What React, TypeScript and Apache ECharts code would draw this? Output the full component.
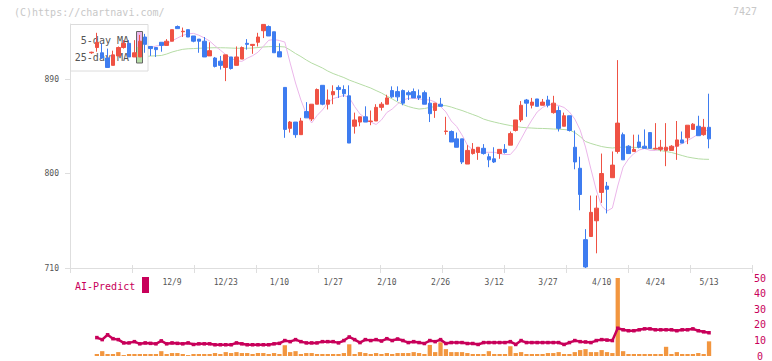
import React, { useEffect, useRef } from "react";
import * as echarts from "echarts";

const dates = [
  "11/18","11/19","11/20","11/21","11/22","11/25","11/26","11/27","11/28","11/29",
  "12/2","12/3","12/4","12/5","12/6","12/9","12/10","12/11","12/12","12/13","12/16","12/17","12/18","12/19","12/20","12/23","12/24","12/25","12/26","12/27","12/30",
  "1/6","1/7","1/8","1/9","1/10","1/14","1/15","1/16","1/17","1/20","1/21","1/22","1/23","1/24","1/27","1/28","1/29","1/30","1/31",
  "2/3","2/4","2/5","2/6","2/7","2/10","2/12","2/13","2/14","2/17","2/18","2/19","2/20","2/21","2/25","2/26","2/27","2/28",
  "3/3","3/4","3/5","3/6","3/7","3/10","3/11","3/12","3/13","3/14","3/17","3/18","3/19","3/21","3/24","3/25","3/26","3/27","3/28","3/31",
  "4/1","4/2","4/3","4/4","4/7","4/8","4/9","4/10","4/11","4/14","4/15","4/16","4/17","4/18","4/21","4/22","4/23","4/24","4/25","4/28","4/30",
  "5/1","5/2","5/7","5/8","5/9","5/12","5/13",
];

const opens = [
  915, 920, 915, 910, 903, 912, 920, 924, 911, 911,
  930, 921, 920, 925, 922, 926, 940, 935, 937, 931,
  928, 926, 912, 910, 907, 901, 911, 903, 909, 924,
  922, 925, 936, 940, 935, 916, 882, 843, 849, 837,
  859, 852, 866, 884, 866, 875, 882, 880, 874, 845,
  849, 854, 849.5, 850, 863, 866, 879, 878, 879, 877,
  878, 874, 877, 867, 860, 866, 840, 840, 833, 833,
  809, 819, 820, 824, 816, 814, 819, 823, 827, 841,
  851, 870, 865, 871, 865, 870, 858, 860, 845, 855,
  825, 805, 737, 740, 755, 782, 788, 796, 821, 837,
  826, 821, 830, 826, 839, 823.5, 823, 822, 822, 826,
  832, 834, 842, 845, 837, 844,
];
const closes = [
  915.5, 925, 910, 901, 913, 920, 924, 911, 915, 926,
  923, 919, 918, 922, 926, 937, 938, 935.5, 930, 926,
  926, 911, 917, 902, 903, 913, 900, 911, 920, 923,
  923, 930, 942, 931, 915, 911, 842, 849, 837, 850,
  853, 866, 880, 866, 870, 878, 880, 876, 829, 851,
  854, 849, 850, 863, 866, 872, 873, 873, 867, 875,
  872, 872, 866, 857, 867, 864, 840.5, 830, 825, 811,
  822, 823, 825, 819, 813, 811, 823, 820, 838, 851,
  865, 867, 868, 864, 868, 865, 867, 843, 855, 841,
  811, 780, 711, 763, 767, 800, 785, 808, 848, 813,
  819, 823, 825, 824, 824, 824, 825, 825, 826, 832,
  829, 846, 847, 836, 844, 833,
];
const lows = [
  914, 916, 909, 901, 903, 912, 919, 911, 911, 911,
  915, 912, 911, 916, 922, 926, 938, 930, 930, 925,
  915, 911, 912, 901, 899, 888, 899, 903, 909, 918,
  914, 921, 929, 931, 915, 911, 834, 839, 834, 837,
  853, 850, 866, 865, 861, 866, 872, 873, 829, 838,
  845, 849, 846, 850, 860, 866, 872, 869, 865, 870,
  872, 870, 866, 849, 853, 864, 837, 830, 825, 809,
  809, 818, 813, 818, 806, 810, 814, 819, 827, 840,
  849, 854, 862, 864, 865, 863, 857, 840, 845, 840,
  804, 765, 710, 740, 724, 772, 762, 796, 819, 813,
  819, 821, 824, 824, 824, 823, 821, 807, 822, 813,
  829, 828, 842, 836, 836, 824,
];
const highs = [
  916, 934, 924, 919, 917, 921, 927, 927, 927, 932,
  933, 921, 920, 925, 928, 937, 941, 939, 937, 931,
  928, 930, 925, 911, 912, 913, 911, 921, 921, 928,
  923, 934, 942, 941, 935, 924, 882, 850, 849, 853,
  868, 866, 881, 884, 880, 884, 884, 884, 884, 858,
  854, 864, 860, 866, 868, 875, 883, 883, 880, 879,
  881, 880, 879, 873, 867, 872, 854, 841, 839, 833,
  827, 829, 825, 828, 819, 825, 823, 828, 840, 851,
  869, 871, 872, 871, 871, 874, 874, 864, 858, 855,
  841, 816, 747, 779, 779, 819, 792, 821, 908, 839,
  827, 837, 837, 842, 839, 848, 832, 848, 827, 850,
  840, 846, 848, 855, 852, 876,
];

const ma5 = [
  null, null, null, null, null, null, null, null, null, null,
  920, 920, 921.4, 922.3, 923.8, 926.4, 929, 931.6, 933, 933.5,
  931.7, 929.2, 926.2, 921.6, 917.5, 913.3, 909.7, 907.4, 906.8, 909.8,
  912.2, 915.5, 921.1, 926.9, 927.6, 926.7, 925.2, 905.2, 886.2, 870,
  856.7, 848.1, 855.2, 860.5, 867.1, 871.4, 872.9, 874.3, 872.4, 863.8,
  856.7, 852.9, 849, 846.7, 851, 858.1, 861.4, 866.2, 870, 871.6,
  871.6, 871, 870.3, 870, 868.1, 863.8, 858.6, 850, 844.8, 836.7,
  827.1, 822.4, 820.5, 820.2, 820.2, 820.2, 819, 818.1, 818.1, 823.8,
  832.9, 842.4, 850.9, 858.6, 862.9, 865.5, 865.8, 864.8, 862.9, 858.6,
  851.9, 841.4, 825.2, 804.3, 784.3, 769, 764.3, 767.1, 788.1, 806.1,
  813.8, 819, 822.4, 823.8, 822.1, 821.9, 823.3, 824, 824, 826.2,
  828.6, 831.4, 834.3, 837.6, 840, 841.9,
];
const ma25 = [
  null, null, null, null, null, null, null, null, null, null,
  911.4, 911.9, 912.1, 912.4, 913.8, 915.7, 917.1, 918.3, 918.8, 919.0,
  919.3, 919.5, 919.7, 919.8, 919.8, 919.7, 919.5, 919.3, 919.3, 919.3,
  919.5, 920.0, 920.5, 920.8, 920.9, 920.9, 920.5, 917.6, 914.3, 911.4,
  908.1, 905.2, 902.9, 900.5, 897.6, 895.2, 893.3, 891.4, 889.0, 887.1,
  885.2, 883.3, 881.4, 879.0, 876.7, 873.8, 871.0, 868.1, 865.7, 863.8,
  862.4, 861.4, 861.9, 862.9, 863.8, 864.8, 864.6, 863.3, 861.6, 860.0,
  858.1, 856.2, 854.3, 851.9, 850.3, 849.0, 847.8, 846.7, 845.7, 844.8,
  844.0, 843.6, 843.3, 843.0, 842.9, 842.7, 842.4, 842.2, 841.9, 841.4,
  839.0, 835.2, 830.5, 828.6, 827.1, 825.7, 824.8, 824.3, 824.8, 825.2,
  825.2, 824.9, 824.8, 824.3, 823.8, 822.9, 821.9, 820.9, 820.0, 818.6,
  817.1, 815.7, 814.8, 814.0, 813.6, 813.5,
];

const volume = [
  null, 1.3, 3.1, 1.3, 1.3, 2.5, 0.6, 1.3, 1.3, 1.3,
  1.3, 1.3, 1.3, 3.1, 1.3, 1.9, 1.9, 1.3, 0.6, 1.3,
  1.3, 1.3, 1.3, 1.9, 1.3, 2.5, 1.9, 2.5, 1.9, 1.9,
  1.3, 1.9, 1.9, 1.3, 1.9, 1.3, 6.9, 2.5, 3.1, 1.3,
  1.9, 1.9, 1.3, 1.3, 1.3, 1.3, 1.3, 1.9, 7.5, 1.3,
  2.5, 1.9, 1.3, 1.9, 1.3, 1.9, 1.3, 1.9, 1.9, 1.9,
  2.5, 1.9, 1.3, 7.1, 2.5, 8.8, 4.4, 2.5, 2.5, 2.5,
  1.9, 1.3, 1.3, 1.3, 3.1, 1.3, 1.3, 1.3, 6.3, 1.9,
  2.5, 1.3, 1.3, 1.3, 1.3, 1.9, 1.9, 2.5, 1.3, 1.3,
  2.5, 3.8, 4.4, 2.5, 2.5, 3.8, 2.5, 1.9, 50, 3.1,
  1.3, 1.3, 1.3, 1.3, 1.3, 1.3, 1.3, 5.9, 1.3, 2.5,
  1.3, 1.3, 1.3, 1.9, 1.3, 9.4,
];
const aiPredict = [
  null, 11.8, 10.5, 13.6, 11.1, 10.5, 8.4, 8.4, 9.2, 7.8,
  8.4, 8.1, 7.8, 9.7, 7.8, 8.4, 8.1, 7.8, 8.4, 7.4,
  7.8, 7.8, 7.8, 7.2, 7.2, 7.2, 7.2, 8.4, 7.8, 7.2,
  7.2, 7.2, 7.2, 7.2, 7.8, 8.1, 9.9, 9.2, 10.5, 9.2,
  8.4, 8.4, 8.4, 9.2, 9.2, 9.2, 8.4, 9.9, 12.2, 10.5,
  8.6, 10.5, 9.9, 10.5, 9.6, 11.1, 9.9, 10.9, 9.9, 8.6,
  9.2, 8.6, 8.0, 9.9, 9.2, 10.5, 8.0, 8.6, 8.6, 8.6,
  8.0, 8.0, 7.4, 8.6, 8.6, 8.6, 8.6, 8.6, 9.2, 7.4,
  9.9, 8.6, 8.6, 8.6, 8.6, 8.6, 8.6, 8.6, 7.4, 8.6,
  9.9, 9.2, 9.0, 8.6, 9.9, 10.5, 10.2, 9.9, 17.8, 16.8,
  16.2, 16.2, 16.8, 17.4, 17.4, 16.8, 16.8, 16.8, 16.8, 16.2,
  16.8, 16.8, 17.4, 16.2, 15.5, 14.9,
];

const tickLabels = ["12/9", "12/23", "1/10", "1/27", "2/10", "2/26", "3/12", "3/27", "4/10", "4/24", "5/13"];
const priceTicks = [710, 800, 890];
const LEAD = 4;
const TRAIL = 8;

const FONT = "DejaVu Sans Mono";
const RED = "#ef5244";
const BLUE = "#3e7cf0";
const MAGENTA = "#c8005a";

export default function App() {
  const ref = useRef<HTMLDivElement>(null);
  useEffect(() => {
    const chart = echarts.init(ref.current!, null, { renderer: "svg" });
    const cats: string[] = [];
    for (let i = 0; i < LEAD; i++) cats.push("_a" + i);
    dates.forEach((d) => cats.push(d));
    for (let i = 0; i < TRAIL; i++) cats.push("_b" + i);

    const candleData = dates.map((_, i) => [i + LEAD, opens[i], closes[i], lows[i], highs[i]]);
    const lineOf = (arr: (number | null)[]) =>
      arr.map((v, i) => [i + LEAD, v == null ? "-" : v]);

    const option: any = {
      animation: false,
      textStyle: { fontFamily: FONT },
      grid: [
        { left: 70, right: 20, top: 24, height: 244 },
        { left: 70, right: 20, top: 278, height: 80 },
      ],
      xAxis: [
        {
          type: "category",
          gridIndex: 0,
          data: cats,
          boundaryGap: false,
          axisLine: { show: false },
          axisTick: { show: false },
          splitLine: { show: false },
          axisLabel: {
            interval: (_idx: number, val: string) => tickLabels.includes(val),
            color: "#555",
            fontSize: 8,
            fontFamily: FONT,
            margin: 10,
          },
        },
        {
          type: "value",
          gridIndex: 0,
          min: 0,
          max: 11,
          interval: 1,
          position: "bottom",
          axisLine: { show: true, onZero: false, lineStyle: { color: "#dedede" } },
          axisTick: { show: true, length: 5, lineStyle: { color: "#dedede" } },
          axisLabel: { show: false },
          splitLine: { show: false },
        },
        {
          type: "value",
          gridIndex: 0,
          min: 0,
          max: 11,
          interval: 1,
          position: "bottom",
          axisLine: { show: false, onZero: false },
          axisTick: { show: true, inside: true, length: 3, lineStyle: { color: "#dedede" } },
          axisLabel: { show: false },
          splitLine: { show: false },
        },
        {
          type: "category",
          gridIndex: 1,
          data: cats,
          boundaryGap: false,
          show: false,
        },
      ],
      yAxis: [
        {
          type: "value",
          gridIndex: 0,
          min: 710,
          max: 942.4,
          interval: 90,
          axisLine: { show: true, lineStyle: { color: "#dedede" } },
          axisTick: { show: true, length: 5, customValues: priceTicks, lineStyle: { color: "#dedede" } },
          axisLabel: {
            customValues: priceTicks,
            color: "#555",
            fontSize: 8,
            fontFamily: FONT,
            margin: 11,
          },
          splitLine: { show: false },
        },
        {
          type: "value",
          gridIndex: 1,
          min: 0,
          max: 50,
          interval: 10,
          position: "right",
          axisLine: { show: false },
          axisTick: { show: false },
          splitLine: { show: false },
          axisLabel: {
            color: MAGENTA,
            fontSize: 10,
            fontFamily: FONT,
            margin: 8,
            align: "center",
          },
        },
      ],
      series: [
        {
          type: "line",
          name: "25-day MA",
          xAxisIndex: 0,
          yAxisIndex: 0,
          data: lineOf(ma25),
          showSymbol: false,
          symbol: "none",
          lineStyle: { color: "#b5dca5", width: 1 },
          z: 1,
        },
        {
          type: "line",
          name: "5-day MA",
          xAxisIndex: 0,
          yAxisIndex: 0,
          data: lineOf(ma5),
          showSymbol: false,
          symbol: "none",
          lineStyle: { color: "#ebb6ea", width: 1 },
          z: 1,
        },
        {
          type: "candlestick",
          xAxisIndex: 0,
          yAxisIndex: 0,
          data: candleData,
          encode: { x: 0, y: [1, 2, 3, 4] },
          barWidth: 4,
          clip: true,
          itemStyle: {
            color: RED,
            color0: BLUE,
            borderColor: RED,
            borderColor0: BLUE,
            borderWidth: 1,
          },
          z: 3,
        },
        {
          type: "bar",
          xAxisIndex: 3,
          yAxisIndex: 1,
          data: lineOf(volume),
          barWidth: 4.3,
          itemStyle: { color: "#f2963f" },
          z: 2,
        },
        {
          type: "line",
          xAxisIndex: 3,
          yAxisIndex: 1,
          data: lineOf(aiPredict),
          symbol: "rect",
          symbolSize: 3.5,
          showSymbol: true,
          itemStyle: { color: MAGENTA },
          lineStyle: { color: MAGENTA, width: 2.5 },
          z: 3,
        },
      ],
      graphic: [
        {
          type: "text",
          x: 14,
          y: 12,
          z: 5,
          style: {
            text: "(C)https://chartnavi.com/",
            fill: "#c8c8c8",
            font: `10px "${FONT}"`,
            verticalAlign: "middle",
          },
        },
        {
          type: "text",
          x: 757,
          y: 11,
          z: 5,
          style: {
            text: "7427",
            fill: "#c8c8c8",
            font: `10px "${FONT}"`,
            align: "right",
            verticalAlign: "middle",
          },
        },
        {
          type: "rect",
          z: 2,
          shape: { x: 70.5, y: 24.5, width: 77.5, height: 46.5 },
          style: { fill: "#ffffff", stroke: "#dcdcdc", lineWidth: 1 },
        },
        {
          type: "text",
          x: 129,
          y: 40,
          z: 2,
          style: {
            text: "5-day MA",
            fill: "#555",
            font: `10px "${FONT}"`,
            align: "right",
            verticalAlign: "middle",
          },
        },
        {
          type: "text",
          x: 129,
          y: 57,
          z: 2,
          style: {
            text: "25-day MA",
            fill: "#555",
            font: `10px "${FONT}"`,
            align: "right",
            verticalAlign: "middle",
          },
        },
        {
          type: "rect",
          z: 2,
          shape: { x: 137, y: 31.5, width: 5, height: 15.5 },
          style: { fill: "#ebb6ea" },
        },
        {
          type: "rect",
          z: 2,
          shape: { x: 137, y: 47, width: 5, height: 16 },
          style: { fill: "#b5dca5" },
        },
        {
          type: "rect",
          z: 2,
          shape: { x: 136.5, y: 31.5, width: 6, height: 31.5 },
          style: { fill: "none", stroke: "#666", lineWidth: 1 },
        },
        {
          type: "text",
          x: 75,
          y: 286,
          z: 5,
          style: {
            text: "AI-Predict",
            fill: MAGENTA,
            font: `10px "${FONT}"`,
            verticalAlign: "middle",
          },
        },
        {
          type: "rect",
          z: 5,
          shape: { x: 142, y: 277, width: 7, height: 16 },
          style: { fill: MAGENTA },
        },
      ],
    };
    chart.setOption(option);
    return () => chart.dispose();
  }, []);
  return (
    <div
      ref={ref}
      style={{ position: "fixed", left: 0, top: 0, width: 772, height: 361, background: "#fff" }}
    />
  );
}
